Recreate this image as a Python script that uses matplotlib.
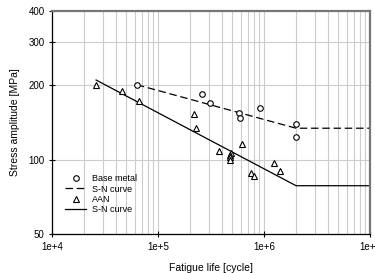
import numpy as np
import matplotlib.pyplot as plt
from matplotlib.ticker import FixedLocator, LogLocator, NullFormatter, FuncFormatter

plt.rcParams['font.family'] = ['Liberation Sans', 'DejaVu Sans']

# Base metal test results
base_N = [63500, 258000, 309000, 580000, 597000, 916000, 1990000, 1990000]
base_S = [200, 184, 169, 154, 147, 162, 139, 124]

# AAN test results
aan_N = [26200, 46000, 66700, 217000, 228000, 376000, 485000, 480000, 478000,
         480000, 624000, 753000, 805000, 1240000, 1420000]
aan_S = [201, 190, 172, 153, 134, 108, 106, 104, 102, 100, 116, 88, 85.8, 96.6, 89.7]

# S-N curves (start, knee, end)
base_curve_N = [63000, 2000000, 10000000]
base_curve_S = [201, 134, 134]
aan_curve_N = [26000, 2000000, 10000000]
aan_curve_S = [210, 78.4, 78.4]

fig = plt.figure(figsize=(3.75, 2.73), dpi=100)
ax = fig.add_axes([0.139, 0.143, 0.848, 0.817])

ax.set_xscale('log')
ax.set_yscale('log')
ax.set_xlim(1e4, 1e7)
ax.set_ylim(50, 400)

ax.plot(base_N, base_S, 'o', mfc='white', mec='black', ms=4, mew=0.8,
        label='Base metal', zorder=3)
ax.plot(base_curve_N, base_curve_S, color='black', lw=0.9, dashes=(6, 3),
        label='S-N curve', zorder=2)
ax.plot(aan_N, aan_S, '^', mfc='white', mec='black', ms=4, mew=0.8,
        label='AAN', zorder=3)
ax.plot(aan_curve_N, aan_curve_S, color='black', lw=0.9, label='S-N curve', zorder=2)

# ticks and grid
ax.xaxis.set_major_locator(FixedLocator([1e4, 1e5, 1e6, 1e7]))
ax.xaxis.set_minor_locator(LogLocator(base=10, subs=np.arange(2, 10)))
ax.xaxis.set_minor_formatter(NullFormatter())
ax.xaxis.set_major_formatter(FuncFormatter(lambda v, p: '1e+%d' % round(np.log10(v))))
ax.yaxis.set_major_locator(FixedLocator([50, 100, 200, 300, 400]))
ax.yaxis.set_minor_locator(FixedLocator([]))
ax.yaxis.set_major_formatter(FuncFormatter(lambda v, p: '%d' % v))

ax.grid(True, which='both', axis='x', color='#cccccc', lw=0.8, zorder=0)
ax.grid(True, which='major', axis='y', color='#cccccc', lw=0.8, zorder=0)
ax.set_axisbelow(True)

ax.tick_params(which='major', direction='inout', length=5, width=0.8, labelsize=7, pad=3)
ax.tick_params(which='minor', length=0)

for s in ['left', 'bottom']:
    ax.spines[s].set_color('black')
    ax.spines[s].set_linewidth(0.9)
for s in ['top', 'right']:
    ax.spines[s].set_color('#777777')
    ax.spines[s].set_linewidth(1.6)

ax.set_xlabel('Fatigue life [cycle]', fontsize=7.5, labelpad=8)
ax.set_ylabel('Stress amplitude [MPa]', fontsize=7.5, labelpad=6)

leg = ax.legend(loc='lower left', bbox_to_anchor=(0.02, 0.06), frameon=False,
                fontsize=6.5, handlelength=2.4, handletextpad=0.6,
                labelspacing=0.15, borderpad=0.2)

fig.savefig('out.png', dpi=100)
